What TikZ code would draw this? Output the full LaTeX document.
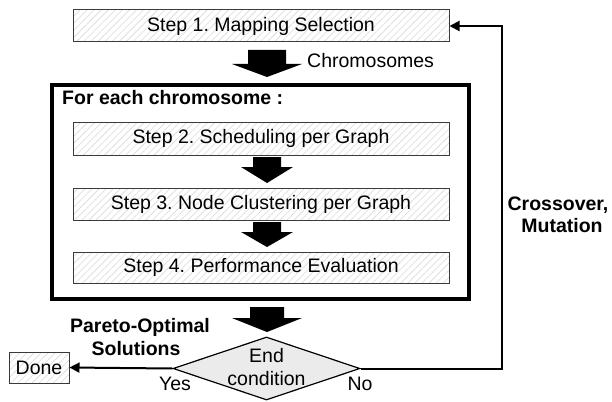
\documentclass[tikz,border=0pt]{standalone}
\usepackage{fontspec}
\setmainfont{Liberation Sans}
\usetikzlibrary{patterns.meta,shapes.geometric,arrows.meta}
\definecolor{hatch}{HTML}{DADADA}
\definecolor{edgecol}{HTML}{3A3A3A}
\definecolor{dfill}{HTML}{EBEBEB}
\newcommand\fatarrow[6]{% x, ytop, ytip, shaft half, head half, head length
  \fill (#1-#4,#2) -- (#1+#4,#2) -- (#1+#4,#3-#6) -- (#1+#5,#3-#6) -- (#1,#3)
        -- (#1-#5,#3-#6) -- (#1-#4,#3-#6) -- cycle;}
\tikzset{
  hatchbox/.style={preaction={fill=white},
    preaction={pattern={Lines[angle=45,distance=5pt,line width=0.6pt]}, pattern color=hatch},
    draw=edgecol, line width=1pt,
    minimum width=376pt, minimum height=32pt, inner sep=0pt},
  conn/.style={line width=2pt, -{Triangle[length=10pt,width=10pt]}},
  lbl/.style={inner sep=0pt, anchor=base},
  blbl/.style={inner sep=0pt, anchor=base, font=\fontsize{19.5}{23}\selectfont\bfseries},
}
\begin{document}
\frenchspacing
\begin{tikzpicture}[x=1pt,y=-1pt, font=\fontsize{19.5}{23}\selectfont]
\useasboundingbox (0,0) rectangle (612,401);
% step boxes
\node[hatchbox] (s1) at (261,26) {Step 1. Mapping Selection};
\node[draw, line width=4pt, minimum width=417pt, minimum height=214pt, inner sep=0pt] (loopbox) at (260.5,192) {};
\node[blbl, anchor=base west] (fe) at (62,105) {For each chromosome :};
\node[hatchbox, minimum height=33pt] (s2) at (261,138.5) {Step 2. Scheduling per Graph};
\node[hatchbox] (s3) at (261,204) {Step 3. Node Clustering per Graph};
\node[hatchbox, minimum height=31pt] (s4) at (261,267.5) {Step 4. Performance Evaluation};
% fat arrows
\fatarrow{267}{50}{77}{19}{35}{13}
\fatarrow{267}{157}{183}{14}{26}{16}
\fatarrow{267}{222}{247}{14}{26}{15}
\fatarrow{267}{307}{332}{17}{35}{14}
\node[lbl, anchor=base west] (chrom) at (307,68) {Chromosomes};
% decision
\node[diamond, draw=black, line width=1.2pt, fill=dfill, minimum width=187pt, minimum height=63pt, inner sep=0pt] (dec) at (266.5,368.5) {};
\node[lbl] (end1) at (266.5,362) {End};
\node[lbl] (end2) at (266.5,385) {condition};
\node[hatchbox, minimum width=60pt, minimum height=31pt] (done) at (39,367.5) {Done};
\draw[conn] (dec.west) -- (done.east);
\coordinate (turn) at (502,368.5);
\draw[conn] (dec.east) -- (turn) |- (s1.east);
% labels
\node[blbl] (p1) at (140,332) {Pareto-Optimal};
\node[blbl] (p2) at (136,355) {Solutions};
\node[lbl] (yes) at (175,390) {Yes};
\node[lbl] (no) at (360,390) {No};
\node[blbl] (c1) at (558,210) {Crossover,};
\node[blbl] (c2) at (562,232) {Mutation};
\end{tikzpicture}
\end{document}
